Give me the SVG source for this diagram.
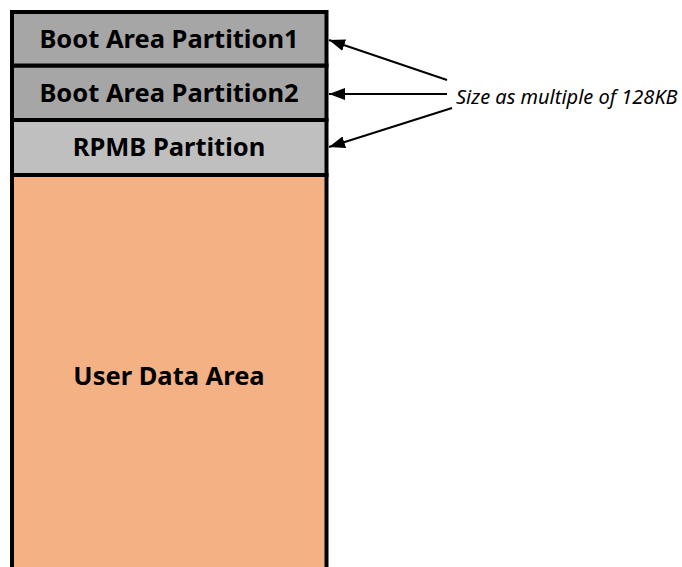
<svg xmlns="http://www.w3.org/2000/svg" width="682" height="567" viewBox="0 0 682 567">
<defs>
<marker id="ah" markerWidth="16" markerHeight="12" refX="16" refY="6" orient="auto" markerUnits="userSpaceOnUse" viewBox="0 0 16 12"><path d="M0,0 L16,6 L0,12 Z" fill="#000"/></marker>
<style>
.box{stroke:#000;stroke-width:4}
.lbl{font-family:"Noto Sans","Open Sans",sans-serif;font-weight:bold;font-size:25.5px;fill:#000;text-anchor:middle}
.note{font-family:"Noto Sans","Open Sans",sans-serif;font-style:italic;font-size:20px;fill:#000}
.con{stroke:#000;stroke-width:2;fill:none;marker-end:url(#ah)}
</style>
</defs>
<rect width="682" height="567" fill="#fff"/>
<g id="user-data">
<rect class="box" x="12" y="175" width="314.5" height="400" fill="#f4b183"/>
<text class="lbl" x="169" y="385">User Data Area</text>
</g>
<g id="rpmb">
<rect class="box" x="12" y="120" width="314.5" height="55" fill="#bfbfbf"/>
<text class="lbl" x="169" y="156">RPMB Partition</text>
</g>
<g id="boot2">
<rect class="box" x="12" y="65.5" width="314.5" height="54.5" fill="#a6a6a6"/>
<text class="lbl" x="169" y="102">Boot Area Partition2</text>
</g>
<g id="boot1">
<rect class="box" x="12" y="12" width="314.5" height="53.5" fill="#a6a6a6"/>
<text class="lbl" x="169" y="48">Boot Area Partition1</text>
</g>
<g id="note">
<text class="note" x="456" y="104">Size as multiple of 128KB</text>
</g>
<g id="connectors">
<path class="con" d="M447,80 L329,40"/>
<path class="con" d="M447,94 L329,94"/>
<path class="con" d="M452,108 L329,147"/>
</g>
</svg>
